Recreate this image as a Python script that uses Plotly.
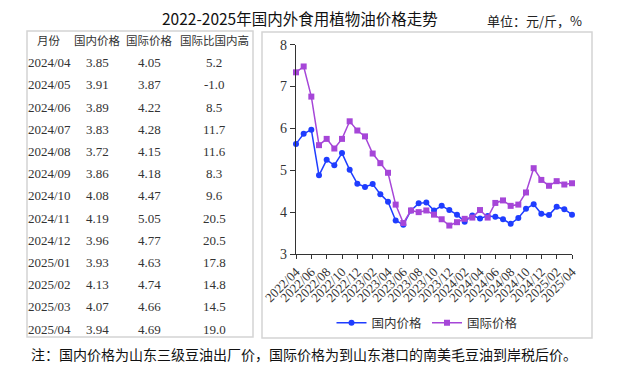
import plotly.graph_objects as go

# ---------------- data ----------------
months = ["2022/04", "2022/05", "2022/06", "2022/07", "2022/08", "2022/09", "2022/10", "2022/11", "2022/12",
          "2023/01", "2023/02", "2023/03", "2023/04", "2023/05", "2023/06", "2023/07", "2023/08", "2023/09",
          "2023/10", "2023/11", "2023/12", "2024/01", "2024/02", "2024/03", "2024/04", "2024/05", "2024/06",
          "2024/07", "2024/08", "2024/09", "2024/10", "2024/11", "2024/12", "2025/01", "2025/02", "2025/03",
          "2025/04"]

domestic_early = [5.63, 5.87, 5.97, 4.88, 5.25, 5.12, 5.41, 5.01, 4.68, 4.60, 4.67, 4.43,
                  4.25, 3.80, 3.70, 4.04, 4.21, 4.23, 4.04, 4.15, 4.05, 3.94, 3.77, 3.92]
intl_early = [7.34, 7.48, 6.76, 5.60, 5.75, 5.52, 5.75, 6.17, 5.95, 5.81, 5.40, 5.17,
              4.94, 4.18, 3.74, 4.04, 4.00, 4.04, 3.94, 3.83, 3.68, 3.76, 3.84, 3.87]

table_months = ["2024/04", "2024/05", "2024/06", "2024/07", "2024/08", "2024/09", "2024/10",
                "2024/11", "2024/12", "2025/01", "2025/02", "2025/03", "2025/04"]
table_domestic = [3.85, 3.91, 3.89, 3.83, 3.72, 3.86, 4.08, 4.19, 3.96, 3.93, 4.13, 4.07, 3.94]
table_intl = [4.05, 3.87, 4.22, 4.28, 4.15, 4.18, 4.47, 5.05, 4.77, 4.63, 4.74, 4.66, 4.69]
table_diff = [5.2, -1.0, 8.5, 11.7, 11.6, 8.3, 9.6, 20.5, 20.5, 17.8, 14.8, 14.5, 19.0]
table_header = ["月份", "国内价格", "国际价格", "国际比国内高"]

domestic = domestic_early + table_domestic
intl = intl_early + table_intl

y_ticks = [3, 4, 5, 6, 7, 8]
x_ticks = months[::2]

title_text = "2022-2025年国内外食用植物油价格走势"
unit_text = "单位：元/斤，%"
note_text = "注：国内价格为山东三级豆油出厂价，国际价格为到山东港口的南美毛豆油到岸税后价。"

# The page body has an 8px margin, so the figure is 8px smaller and
# all layout positions (given in window pixels) are shifted by 8px.
OFF = 8
W, H = 622 - OFF, 369 - OFF
BLUE = "#1f3dff"
PURPLE = "#a646d8"
CJK = "Noto Sans CJK SC"
SERIF = "Liberation Serif"


def px(x):
    return (x - OFF) / W


def py(y):
    return 1 - (y - OFF) / H


fig = go.Figure()
fig.add_trace(go.Scatter(x=months, y=domestic, name="国内价格", mode="lines+markers",
                         line=dict(color=BLUE, width=1.5),
                         marker=dict(symbol="circle", size=6, color=BLUE),
                         cliponaxis=False))
fig.add_trace(go.Scatter(x=months, y=intl, name="国际价格", mode="lines+markers",
                         line=dict(color=PURPLE, width=1.5),
                         marker=dict(symbol="square", size=6, color=PURPLE),
                         cliponaxis=False))

annotations = []
annotations.append(dict(text=title_text, x=px(300), y=py(18), xref="paper", yref="paper",
                        showarrow=False, xanchor="center", yanchor="middle", borderpad=0,
                        font=dict(family=CJK, size=15.5, color="#111111")))
annotations.append(dict(text=unit_text, x=px(534), y=py(20), xref="paper", yref="paper",
                        showarrow=False, xanchor="center", yanchor="middle",
                        font=dict(family=CJK, size=13, color="#222222")))
annotations.append(dict(text=note_text, x=px(29), y=py(354), xref="paper", yref="paper",
                        showarrow=False, xanchor="left", yanchor="middle",
                        font=dict(family=CJK, size=14, color="#111111")))

col_x = [49, 97, 149, 214]
header_y = 40
row_y0 = 62.7
row_dy = 22.2
for cx, h in zip(col_x, table_header):
    annotations.append(dict(text=h, x=px(cx), y=py(header_y), xref="paper", yref="paper",
                            showarrow=False, xanchor="center", yanchor="middle",
                            font=dict(family=CJK, size=11.5, color="#333333")))
for i in range(len(table_months)):
    yy = row_y0 + i * row_dy
    vals = [table_months[i], f"{table_domestic[i]:.2f}", f"{table_intl[i]:.2f}", f"{table_diff[i]:.1f}"]
    for cx, v in zip(col_x, vals):
        annotations.append(dict(text=v, x=px(cx), y=py(yy), xref="paper", yref="paper",
                                showarrow=False, xanchor="center", yanchor="middle",
                                font=dict(family=SERIF, size=13, color="#333333")))

shapes = [
    dict(type="rect", xref="paper", yref="paper", x0=px(27), x1=px(253), y0=py(31), y1=py(337),
         line=dict(color="#d4d4d4", width=1.5), fillcolor="rgba(0,0,0,0)", layer="below"),
    dict(type="rect", xref="paper", yref="paper", x0=px(262), x1=px(592), y0=py(32), y1=py(338),
         line=dict(color="#d4d4d4", width=1.5), fillcolor="rgba(0,0,0,0)", layer="below"),
]

fig.update_layout(
    width=W, height=H,
    margin=dict(l=0, r=0, t=0, b=0),
    paper_bgcolor="white", plot_bgcolor="white",
    annotations=annotations,
    shapes=shapes,
    showlegend=True,
    legend=dict(orientation="h", x=px(427), y=py(323), xanchor="center", yanchor="middle",
                font=dict(family=CJK, size=12.5, color="#333333"), itemwidth=30,
                bgcolor="rgba(0,0,0,0)"),
    xaxis=dict(domain=[px(296), px(572)], type="category", range=[0, len(months) - 1],
               tickmode="array", tickvals=x_ticks, ticktext=x_ticks, tickangle=-45,
               showline=True, linecolor="#333333", linewidth=1.2,
               ticks="outside", ticklen=4, tickcolor="#333333",
               showgrid=False, zeroline=False, automargin=False,
               tickfont=dict(family=SERIF, size=13, color="#333333")),
    yaxis=dict(domain=[py(254), py(44.7)], range=[3, 8],
               tickmode="array", tickvals=y_ticks,
               showline=True, linecolor="#333333", linewidth=1.2,
               ticks="outside", ticklen=5, tickcolor="#333333",
               showgrid=False, zeroline=False, automargin=False,
               tickfont=dict(family=SERIF, size=14, color="#333333")),
)

fig.write_html("out.html")
